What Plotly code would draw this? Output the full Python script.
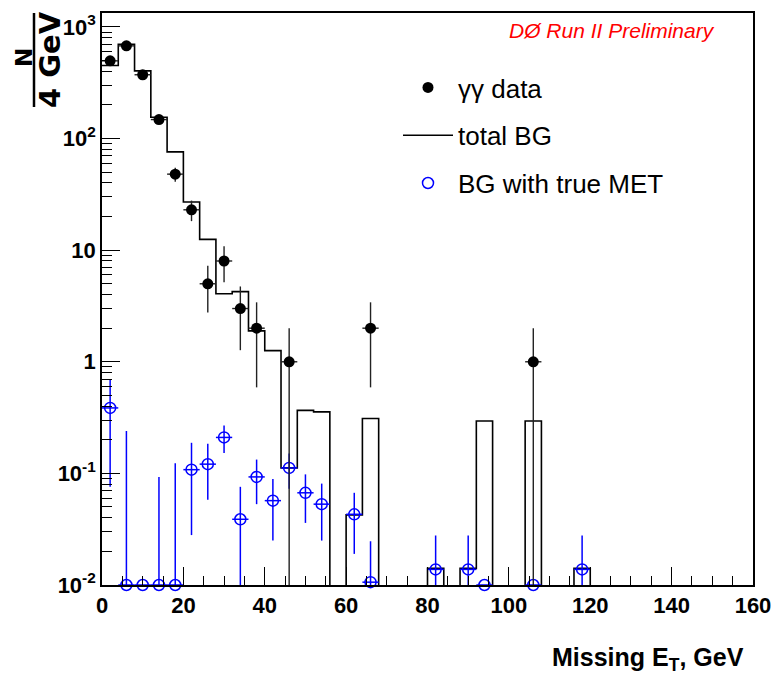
import plotly.graph_objects as go
import numpy as np

# ---------------- data ----------------
# gamma-gamma data (bin centres, counts, vertical errors)
data_x = [2, 6, 10, 14, 18, 22, 26, 30, 34, 38, 46, 66, 106]
data_n = [497, 677, 373, 148, 48, 23, 5, 8, 3, 2, 1, 2, 1]
data_err = [22.3, 26.0, 19.3, 12.2, 6.9, 4.8, 2.24, 2.83, 1.73, 1.41, 1.0, 1.41, 1.0]
bin_half = 2

# total BG histogram (4 GeV bins from 0 to 160)
bg_edges = list(range(0, 164, 4))
bg_vals = [451, 700, 404, 155, 76, 27, 12.5, 4.07, 4.25, 1.89,
           1.26, 0.112, 0.367, 0.356, 0, 0.0425, 0.31, 0, 0, 0,
           0.0141, 0, 0.0141, 0.295, 0, 0, 0.295, 0, 0, 0.0141,
           0, 0, 0, 0, 0, 0, 0, 0, 0, 0]

# BG with true MET
true_x = [2, 6, 10, 14, 18, 22, 26, 30, 34, 38, 42, 46, 50, 54, 62, 66, 82, 90, 94, 106, 118]
true_y = [0.386, 0.01, 0.01, 0.01, 0.01, 0.108, 0.121, 0.21, 0.0388, 0.093, 0.057, 0.112,
          0.067, 0.053, 0.043, 0.0106, 0.0138, 0.0138, 0.01, 0.01, 0.0138]
true_err = [0.31, 0.23, 0, 0.083, 0.113, 0.08, 0.063, 0.058, 0.037, 0.04, 0.032, 0.039,
            0.031, 0.028, 0.024, 0.014, 0.014, 0.014, 0, 0, 0.014]

y_ticks = [0.01, 0.1, 1, 10, 100, 1000]
y_ticktext = ["10<sup>-2</sup>", "10<sup>-1</sup>", "1", "10", "10<sup>2</sup>", "10<sup>3</sup>"]
x_ticks = list(range(0, 161, 20))

# ---------------- figure ----------------
W, H = 776, 686
L, R, T, B = 102, 23, 13, 101
pw, ph = W - L - R, H - T - B

def px2paper(px, py):
    return (px - L) / pw, (H - B - py) / ph

NARROW = "Liberation Sans Narrow, Liberation Sans, Arial"
BLUE = "#0000ff"

# empty bins drawn far below the frame (log scale)
bg_plot = [v if v > 0 else 1e-4 for v in bg_vals]
bg_plot = bg_plot + [bg_plot[-1]]

fig = go.Figure()

fig.add_trace(go.Scatter(
    x=bg_edges, y=bg_plot, mode="lines", line=dict(shape="hv", color="black", width=1.6),
    name="total BG", legendgroup="b", legendrank=2, cliponaxis=True))

# blue error bars (clipped)
fig.add_trace(go.Scatter(
    x=true_x, y=true_y, mode="markers", marker=dict(size=1, opacity=0),
    error_y=dict(type="data", array=true_err, color=BLUE, thickness=1.5, width=0),
    error_x=dict(type="constant", value=bin_half, color=BLUE, thickness=1.5, width=0),
    showlegend=False, hoverinfo="skip", cliponaxis=True))
# blue markers
fig.add_trace(go.Scatter(
    x=true_x, y=true_y, mode="markers",
    marker=dict(symbol="circle-open", size=11, color=BLUE, line=dict(width=1.5, color=BLUE)),
    name="BG with true MET", legendgroup="c", legendrank=3, cliponaxis=False))

# data
fig.add_trace(go.Scatter(
    x=data_x, y=data_n, mode="markers",
    marker=dict(symbol="circle", size=11, color="black"),
    error_y=dict(type="data", array=data_err, color="#222222", thickness=1.4, width=0),
    error_x=dict(type="constant", value=bin_half, color="#222222", thickness=1.4, width=0),
    name="γγ data", legendgroup="a", legendrank=1, cliponaxis=True))

minor_y = [m * 10.0 ** k for k in range(-2, 3) for m in range(2, 10)]

fig.update_layout(
    width=W, height=H, margin=dict(l=L, r=R, t=T, b=B, autoexpand=False),
    paper_bgcolor="white", plot_bgcolor="white",
    showlegend=True,
    legend=dict(x=px2paper(398, 0)[0], y=px2paper(0, 64)[1], xanchor="left", yanchor="top",
                font=dict(family=NARROW, size=26, color="black"),
                bgcolor="rgba(0,0,0,0)", traceorder="grouped", tracegroupgap=11,
                itemwidth=50),
    xaxis=dict(range=[0, 160], showline=True, linecolor="black", linewidth=1.6, mirror=True,
               ticks="inside", ticklen=18, tickwidth=1.2, tickcolor="black",
               tickvals=x_ticks, showgrid=False, zeroline=False,
               tickfont=dict(family=NARROW, size=22, color="black", weight="bold"),
               minor=dict(ticks="inside", ticklen=9, dtick=5, tick0=0, tickcolor="black",
                          tickwidth=1.2, showgrid=False)),
    yaxis=dict(type="log", range=[-2, 3.125], showline=True, linecolor="black", linewidth=1.6,
               mirror=True, ticks="inside", ticklen=18, tickwidth=1.2, tickcolor="black",
               tickmode="array", tickvals=y_ticks, ticktext=y_ticktext,
               showgrid=False, zeroline=False,
               tickfont=dict(family=NARROW, size=22, color="black", weight="bold"),
               minor=dict(ticks="inside", ticklen=10, tickmode="array", tickvals=minor_y,
                          tickcolor="black", tickwidth=1.2, showgrid=False)),
)

annots = []
# red label
x0, y0 = px2paper(612, 31)
annots.append(dict(xref="paper", yref="paper", x=x0, y=y0, xanchor="center", yanchor="middle",
                   text="<i>DØ Run II Preliminary</i>", showarrow=False,
                   font=dict(family=NARROW, size=21, color="#ff0000")))
# x title
x0, y0 = px2paper(746, 659)
annots.append(dict(xref="paper", yref="paper", x=x0, y=y0, xanchor="right", yanchor="middle",
                   text="<b>Missing E<sub>T</sub>, GeV</b>", showarrow=False,
                   font=dict(family=NARROW, size=25, color="black")))
# y title as a fraction N / 4 GeV
x0, y0 = px2paper(24, 58)
annots.append(dict(xref="paper", yref="paper", x=x0, y=y0, xanchor="center", yanchor="middle",
                   text="<b>N</b>", textangle=-90, showarrow=False,
                   font=dict(family="DejaVu Sans", size=23, color="black")))
x0, y0 = px2paper(50, 60)
annots.append(dict(xref="paper", yref="paper", x=x0, y=y0, xanchor="center", yanchor="middle",
                   text="<b>4 GeV</b>", textangle=-90, showarrow=False,
                   font=dict(family="DejaVu Sans", size=29, color="black")))
fig.update_layout(annotations=annots)

lx, ly0 = px2paper(34, 13)
_, ly1 = px2paper(34, 107)
fig.add_shape(type="line", xref="paper", yref="paper", x0=lx, x1=lx, y0=ly0, y1=ly1,
              line=dict(color="black", width=2.5))

fig.write_html("out.html", config={"displayModeBar": False},
               post_script="document.body.style.margin='0px';document.body.style.padding='0px';")
